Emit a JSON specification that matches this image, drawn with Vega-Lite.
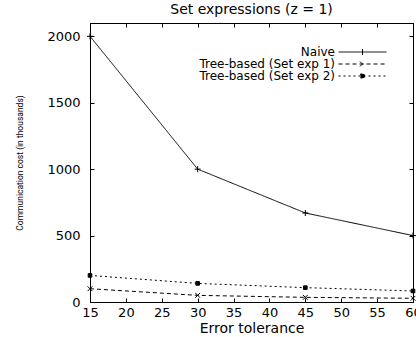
{
  "$schema": "https://vega.github.io/schema/vega-lite/v6.json",
  "width": 323,
  "height": 279,
  "autosize": "none",
  "padding": {"left": 90, "top": 23, "right": 3, "bottom": 35},
  "background": "white",
  "title": {"text": "Set expressions (z = 1)", "font": "DejaVu Sans", "fontSize": 14, "fontWeight": "normal", "color": "black", "offset": 6},
  "data": {"values": [
    {"tol": 15, "cost": 2000, "series": "Naive"},
    {"tol": 30, "cost": 1000, "series": "Naive"},
    {"tol": 45, "cost": 670, "series": "Naive"},
    {"tol": 60, "cost": 500, "series": "Naive"},
    {"tol": 15, "cost": 100, "series": "Tree-based (Set exp 1)"},
    {"tol": 30, "cost": 50, "series": "Tree-based (Set exp 1)"},
    {"tol": 45, "cost": 35, "series": "Tree-based (Set exp 1)"},
    {"tol": 60, "cost": 28, "series": "Tree-based (Set exp 1)"},
    {"tol": 15, "cost": 200, "series": "Tree-based (Set exp 2)"},
    {"tol": 30, "cost": 140, "series": "Tree-based (Set exp 2)"},
    {"tol": 45, "cost": 108, "series": "Tree-based (Set exp 2)"},
    {"tol": 60, "cost": 83, "series": "Tree-based (Set exp 2)"}
  ]},
  "layer": [
    {
      "mark": {"type": "line", "color": "black", "strokeWidth": 1},
      "encoding": {
        "x": {"field": "tol", "type": "quantitative", "scale": {"domain": [15, 60], "nice": false},
              "axis": {"orient": "bottom", "title": "Error tolerance", "values": [15, 20, 25, 30, 35, 40, 45, 50, 55, 60], "labelPadding": 8, "titlePadding": 2, "titleFont": "DejaVu Sans", "titleFontSize": 14}},
        "y": {"field": "cost", "type": "quantitative", "scale": {"domain": [0, 2100], "nice": false},
              "axis": {"orient": "left", "title": "Communication cost (in thousands)", "format": "d", "values": [0, 500, 1000, 1500, 2000], "labelPadding": 14, "titlePadding": 22, "titleFont": "Roboto", "titleFontSize": 8.5}},
        "strokeDash": {"field": "series", "type": "nominal",
          "scale": {"domain": ["Naive", "Tree-based (Set exp 1)", "Tree-based (Set exp 2)"], "range": [[1, 0], [4, 3], [2, 3]]},
          "legend": {
            "title": null, "orient": "none", "legendX": 266.5, "legendY": 23,
            "symbolSize": 64, "symbolStrokeColor": "black", "symbolFillColor": "black", "symbolStrokeWidth": 1,
            "labelAlign": "right", "labelOffset": -33.5, "labelFont": "DejaVu Sans", "labelFontSize": 12, "labelColor": "black", "rowPadding": -10,
            "encode": {"symbols": {"update": {
              "shape": {"signal": "datum.value === 'Naive' ? 'M-6,0L6,0M0,-0.75L0,0.75' : (datum.value === 'Tree-based (Set exp 1)' ? 'M-6,0L6,0M-0.6,-0.6L0.6,0.6M-0.6,0.6L0.6,-0.6' : 'M-6,0L6,0M-0.5,-0.5L0.5,-0.5L0.5,0.5L-0.5,0.5Z')"},
              "fill": {"value": "black"},
              "stroke": {"value": "black"}
            }}}
          }}
      }
    },
    {
      "transform": [{"filter": "datum.series === 'Naive'"}],
      "mark": {"type": "point", "shape": "M-1,0L1,0M0,-1L0,1", "filled": false, "stroke": "black", "strokeWidth": 1, "size": 36, "opacity": 1},
      "encoding": {
        "x": {"field": "tol", "type": "quantitative", "axis": {"orient": "top", "title": null, "labels": false, "values": [15, 20, 25, 30, 35, 40, 45, 50, 55, 60]}},
        "y": {"field": "cost", "type": "quantitative", "axis": {"orient": "right", "title": null, "labels": false, "values": [0, 500, 1000, 1500, 2000]}}
      }
    },
    {
      "transform": [{"filter": "datum.series === 'Tree-based (Set exp 1)'"}],
      "mark": {"type": "point", "shape": "M-0.8,-0.8L0.8,0.8M-0.8,0.8L0.8,-0.8", "filled": false, "stroke": "black", "strokeWidth": 1, "size": 36, "opacity": 1},
      "encoding": {
        "x": {"field": "tol", "type": "quantitative", "axis": null},
        "y": {"field": "cost", "type": "quantitative", "axis": null}
      }
    },
    {
      "transform": [{"filter": "datum.series === 'Tree-based (Set exp 2)'"}],
      "mark": {"type": "point", "shape": "M-0.6,-0.6L0.6,-0.6L0.6,0.6L-0.6,0.6Z", "filled": true, "fill": "black", "stroke": "black", "strokeWidth": 1, "size": 36, "opacity": 1},
      "encoding": {
        "x": {"field": "tol", "type": "quantitative", "axis": null},
        "y": {"field": "cost", "type": "quantitative", "axis": null}
      }
    }
  ],
  "resolve": {"axis": {"x": "independent", "y": "independent"}},
  "config": {
    "view": {"stroke": "black", "strokeWidth": 1},
    "axis": {"domainColor": "black", "tickColor": "black", "labelColor": "black", "titleColor": "black", "grid": false, "tickSize": -4, "labelFont": "DejaVu Sans", "labelFontSize": 13, "titleFontWeight": "normal", "labelFlush": false, "labelOverlap": false}
  }
}
